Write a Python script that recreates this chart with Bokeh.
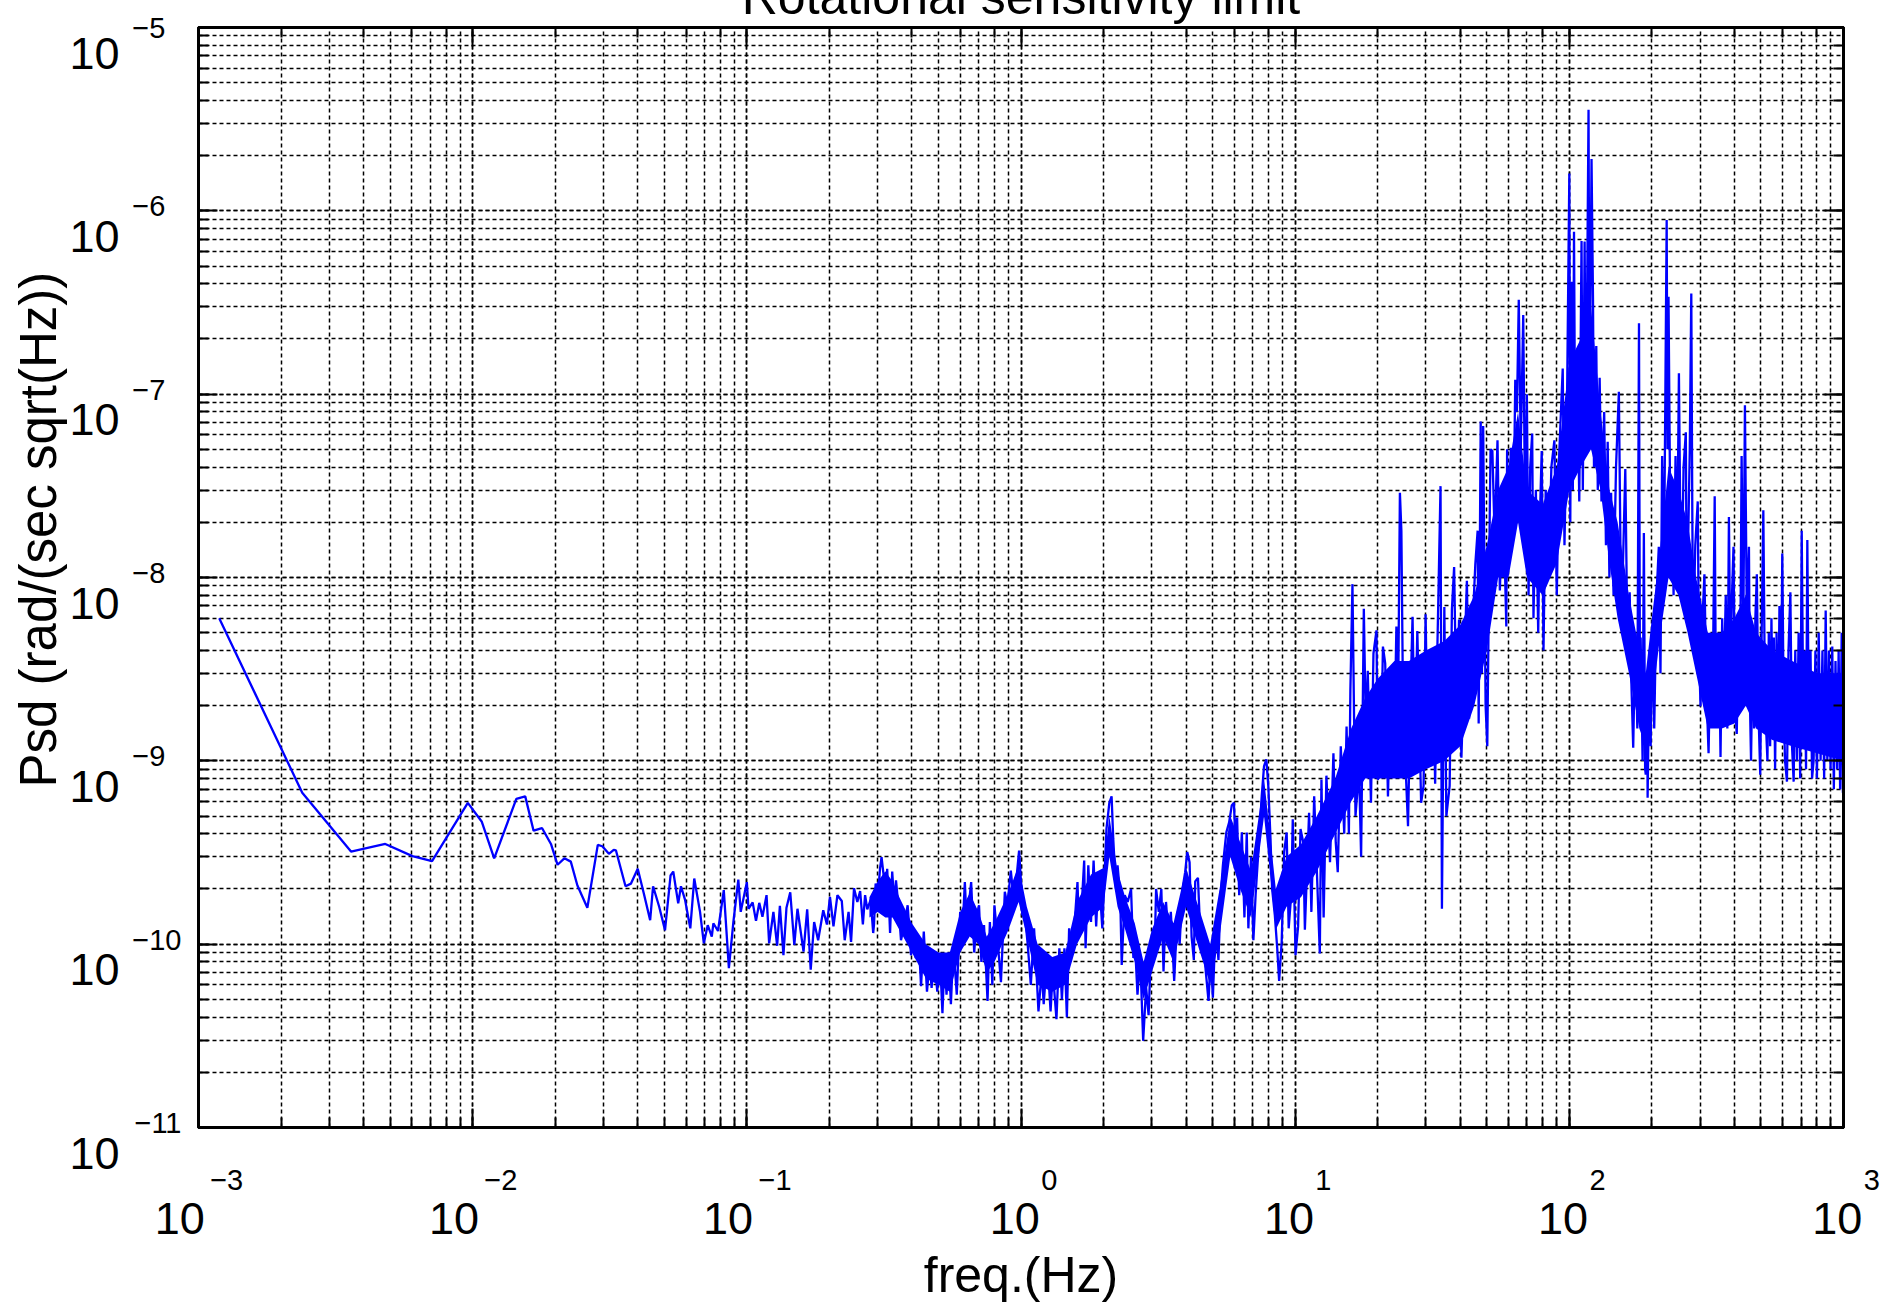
import math
from bokeh.plotting import figure
from bokeh.models import LogAxis, FixedTicker, Title
from bokeh.embed import file_html
from bokeh.resources import INLINE

# ---------------- data ----------------
title_text = "Rotational sensitivity limit"
x_label_text = "freq.(Hz)"
y_label_text = "Psd (rad/(sec sqrt(Hz))"
x_tick_exps = [-3, -2, -1, 0, 1, 2, 3]
y_tick_exps = [-11, -10, -9, -8, -7, -6, -5]

# 0.001 - 0.1 Hz  (freq Hz, psd rad/(s sqrt(Hz)))
seg_mhz = [
    (0.00119, 6.0e-9), (0.00239, 6.7e-10), (0.0036, 3.2e-10), (0.0048, 3.52e-10),
    (0.00603, 3.02e-10), (0.00711, 2.84e-10), (0.0096, 5.9e-10), (0.0108, 4.65e-10),
    (0.01198, 2.94e-10), (0.01443, 6.2e-10), (0.01555, 6.4e-10), (0.01668, 4.16e-10),
    (0.0179, 4.3e-10), (0.0193, 3.52e-10), (0.0204, 2.71e-10), (0.0216, 2.94e-10),
    (0.0228, 2.82e-10), (0.0241, 2.09e-10), (0.0262, 1.58e-10), (0.0286, 3.48e-10),
    (0.0297, 3.42e-10), (0.0314, 3.11e-10), (0.0327, 3.27e-10), (0.0333, 3.25e-10),
    (0.0361, 2.07e-10), (0.0378, 2.14e-10), (0.0400, 2.58e-10), (0.0421, 1.89e-10),
    (0.0444, 1.35e-10), (0.0455, 2.07e-10), (0.0479, 1.60e-10), (0.0503, 1.19e-10),
    (0.0527, 2.37e-10), (0.0539, 2.49e-10), (0.0562, 1.67e-10), (0.0575, 2.07e-10),
    (0.0595, 1.75e-10), (0.0622, 1.22e-10), (0.0643, 2.28e-10), (0.0675, 1.50e-10),
    (0.0697, 1.01e-10), (0.0720, 1.27e-10), (0.0745, 1.10e-10), (0.0755, 1.30e-10),
    (0.0785, 1.18e-10), (0.0824, 1.97e-10), (0.0860, 7.4e-11), (0.0893, 1.32e-10),
    (0.0931, 2.25e-10), (0.0950, 1.50e-10),
]

# 0.1 - 1 Hz
seg_dhz = [
    (0.100, 2.18e-10), (0.1014, 1.56e-10), (0.105, 1.69e-10), (0.108, 1.34e-10),
    (0.111, 1.68e-10), (0.114, 1.41e-10), (0.118, 1.85e-10), (0.1206, 1.01e-10),
    (0.125, 1.50e-10), (0.129, 9.8e-11), (0.132, 1.62e-10), (0.136, 8.7e-11),
    (0.1395, 1.58e-10), (0.144, 1.92e-10), (0.149, 9.9e-11), (0.153, 1.56e-10),
    (0.161, 9.1e-11), (0.166, 1.55e-10), (0.171, 7.25e-11), (0.176, 1.32e-10),
    (0.182, 1.05e-10), (0.190, 1.53e-10), (0.196, 1.28e-10), (0.201, 1.81e-10),
    (0.207, 1.25e-10), (0.214, 1.85e-10), (0.222, 1.72e-10), (0.2275, 1.05e-10),
    (0.235, 1.50e-10), (0.240, 1.03e-10), (0.246, 2.02e-10), (0.253, 1.70e-10),
    (0.259, 1.95e-10), (0.265, 1.28e-10), (0.270, 1.85e-10), (0.275, 1.55e-10),
    (0.283, 1.75e-10), (0.289, 1.15e-10), (0.291, 1.28e-10), (0.295, 2.14e-10),
    (0.301, 1.85e-10), (0.306, 2.58e-10), (0.310, 2.98e-10), (0.315, 2.42e-10),
    (0.321, 1.50e-10), (0.325, 2.58e-10), (0.330, 1.63e-10), (0.333, 1.15e-10),
    (0.339, 2.49e-10), (0.345, 1.67e-10), (0.350, 2.23e-10), (0.357, 1.63e-10),
    (0.365, 1.05e-10), (0.375, 1.27e-10), (0.386, 1.63e-10), (0.392, 1.17e-10),
    (0.397, 8.7e-11), (0.406, 1.19e-10), (0.413, 8.4e-11), (0.425, 9.5e-11),
    (0.432, 5.9e-11), (0.442, 1.17e-10), (0.454, 5.5e-11), (0.464, 8.0e-11),
    (0.472, 5.77e-11), (0.482, 8.7e-11), (0.495, 5.5e-11), (0.506, 8.6e-11),
    (0.517, 4.2e-11), (0.526, 8.4e-11), (0.535, 5.3e-11), (0.545, 9.0e-11),
    (0.555, 4.7e-11), (0.567, 9.9e-11), (0.583, 5.3e-11), (0.600, 1.50e-10),
    (0.610, 1.08e-10), (0.624, 2.18e-10), (0.634, 1.27e-10), (0.646, 1.67e-10),
    (0.658, 2.18e-10), (0.675, 9.0e-11), (0.690, 1.44e-10), (0.703, 1.63e-10),
    (0.717, 8.0e-11), (0.733, 1.27e-10), (0.755, 4.9e-11), (0.770, 1.32e-10),
    (0.786, 6.0e-11), (0.800, 1.63e-10), (0.822, 1.04e-10), (0.845, 6.2e-11),
    (0.873, 1.93e-10), (0.892, 1.63e-10), (0.918, 2.52e-10), (0.940, 1.77e-10),
    (0.965, 2.37e-10), (0.984, 3.24e-10),
]

# 1 - 10 Hz
seg_hz = [
    (1.000, 2.18e-10), (1.012, 1.44e-10), (1.030, 1.50e-10), (1.056, 1.03e-10),
    (1.086, 6.0e-11), (1.116, 1.22e-10), (1.137, 7.4e-11), (1.158, 4.3e-11),
    (1.19, 7.1e-11), (1.21, 4.7e-11), (1.246, 8.7e-11), (1.282, 4.3e-11),
    (1.306, 7.1e-11), (1.347, 3.9e-11), (1.38, 9.5e-11), (1.41, 5.0e-11),
    (1.44, 9.5e-11), (1.47, 4.0e-11), (1.498, 1.22e-10), (1.53, 8.7e-11),
    (1.576, 1.44e-10), (1.607, 2.18e-10), (1.63, 1.10e-10), (1.66, 1.50e-10),
    (1.70, 2.86e-10), (1.72, 9.5e-11), (1.76, 2.69e-10), (1.80, 1.32e-10),
    (1.84, 2.86e-10), (1.88, 1.25e-10), (1.92, 2.47e-10), (1.98, 1.22e-10),
    (2.01, 2.10e-10), (2.05, 4.25e-10), (2.10, 5.9e-10), (2.14, 6.4e-10),
    (2.17, 3.75e-10), (2.22, 2.0e-10), (2.25, 2.69e-10), (2.30, 1.85e-10),
    (2.33, 7.7e-11), (2.39, 1.85e-10), (2.45, 1.70e-10), (2.52, 2.0e-10),
    (2.57, 8.4e-11), (2.61, 9.5e-11), (2.66, 5.3e-11), (2.72, 8.7e-11),
    (2.79, 2.97e-11), (2.86, 5.8e-11), (2.92, 4.1e-11), (2.98, 9.5e-11),
    (3.07, 8.7e-11), (3.11, 2.0e-10), (3.18, 1.50e-10), (3.25, 2.0e-10),
    (3.31, 7.1e-11), (3.38, 1.70e-10), (3.46, 1.03e-10), (3.52, 1.50e-10),
    (3.62, 6.3e-11), (3.72, 1.50e-10), (3.79, 1.0e-10), (3.88, 2.0e-10),
    (3.97, 2.47e-10), (4.04, 3.18e-10), (4.12, 2.8e-10), (4.19, 1.10e-10),
    (4.27, 8.2e-11), (4.32, 2.2e-10), (4.42, 2.3e-10), (4.53, 9.5e-11),
    (4.62, 1.05e-10), (4.72, 7.1e-11), (4.83, 4.9e-11), (4.92, 8.7e-11),
    (5.01, 5.1e-11), (5.13, 1.32e-10), (5.25, 8.2e-11), (5.35, 1.85e-10),
    (5.45, 2.69e-10), (5.61, 4.07e-10), (5.74, 4.6e-10), (5.87, 5.7e-10),
    (5.98, 5.9e-10), (6.05, 3.75e-10), (6.14, 4.9e-10), (6.25, 1.85e-10),
    (6.39, 4.07e-10), (6.53, 1.40e-10), (6.66, 4.07e-10), (6.75, 1.22e-10),
    (6.90, 3.0e-10), (7.04, 1.05e-10), (7.18, 1.90e-10), (7.34, 3.2e-10),
    (7.55, 6.4e-10), (7.70, 9.35e-10), (7.85, 1.02e-9), (7.98, 7.3e-10),
    (8.13, 3.75e-10), (8.24, 2.0e-10), (8.43, 1.44e-10), (8.60, 9.5e-11),
    (8.74, 6.3e-11), (8.93, 1.03e-10), (9.12, 3.2e-10), (9.31, 4.07e-10),
    (9.47, 1.22e-10), (9.67, 1.85e-10), (9.80, 4.8e-10),
]

# 10 - 100 Hz
seg_dahz = [
    (10.03, 8.7e-11), (10.25, 1.25e-10), (10.46, 4.25e-10), (10.70, 3.6e-10),
    (10.85, 1.2e-10), (11.24, 5.2e-10), (11.46, 1.5e-10), (11.73, 6.4e-10),
    (11.99, 2.58e-10), (12.30, 8.9e-11), (12.47, 7.9e-10), (12.70, 1.4e-10),
    (13.0, 8.3e-10), (13.4, 2.8e-10), (13.79, 1.1e-9), (14.06, 3.6e-10),
    (14.3, 2.47e-10), (14.67, 1.2e-9), (15.1, 4.0e-10), (15.4, 1.54e-9),
    (15.7, 4.0e-10), (15.9, 2.44e-9), (16.18, 9.2e-9), (16.4, 1.7e-9),
    (16.6, 5.0e-10), (17.1, 9.0e-10), (17.4, 3.0e-10), (17.8, 6.75e-9),
    (18.1, 1.5e-9), (18.4, 3.1e-9), (18.9, 5.9e-10), (19.3, 3.85e-9),
    (19.8, 5.15e-9), (20.0, 7.9e-10), (20.5, 8.4e-10), (20.9, 4.2e-9),
    (21.3, 3.4e-9), (21.8, 6.4e-10), (22.3, 2.54e-9), (22.9, 8.8e-10),
    (23.4, 5.4e-9), (23.7, 1.5e-9), (24.1, 2.9e-8), (24.4, 1.8e-8),
    (24.8, 1.4e-9), (25.3, 9.0e-10), (25.8, 4.4e-10), (26.3, 2.06e-9),
    (26.8, 6.1e-9), (27.3, 1.2e-9), (27.9, 5.1e-9), (28.8, 5.9e-10),
    (29.4, 7.3e-10), (29.9, 6.3e-9), (30.5, 1.04e-9), (31.1, 3.1e-9),
    (31.8, 3.85e-9), (32.4, 7.5e-10), (33.0, 4.0e-9), (33.9, 3.15e-8),
    (34.3, 1.56e-10), (35.0, 6.9e-9), (35.6, 5.0e-10), (36.6, 7.3e-10),
    (37.3, 6.7e-9), (38.0, 1.14e-8), (38.8, 1.6e-9), (39.6, 5.9e-9),
    (40.4, 1.04e-9), (41.3, 3.1e-9), (42.3, 9.6e-9), (43.1, 1.7e-9),
    (44.4, 5.6e-9), (45.4, 1.18e-8), (46.3, 1.8e-8), (46.7, 1.6e-9),
    (47.5, 7.1e-8), (48.0, 3.0e-9), (48.5, 6.7e-8), (49.5, 2.0e-9),
    (50.2, 1.2e-9), (51.3, 2.5e-8), (51.6, 5.0e-8), (52.4, 4.9e-8),
    (53.4, 1.65e-8), (54.7, 5.6e-8), (55.8, 8.5e-9), (57.3, 3.1e-8),
    (58.9, 5.4e-9), (59.3, 5.0e-8), (60.0, 1.65e-8), (61.2, 5.1e-8),
    (62.6, 2.1e-8), (63.5, 1.2e-7), (64.4, 8.0e-8), (65.4, 3.27e-7),
    (66.5, 5.0e-8), (67.9, 2.7e-7), (69.0, 2.0e-8), (70.0, 1.0e-7),
    (71.0, 8.0e-9), (72.0, 4.0e-8), (73.2, 6.1e-8), (74.0, 6.0e-9),
    (75.5, 3.0e-8), (77.0, 5.0e-9), (78.0, 2.0e-8), (79.3, 4.9e-8),
    (80.5, 4.0e-9), (82.0, 3.0e-8), (84.0, 1.0e-8), (86.0, 4.0e-8),
    (88.2, 5.6e-8), (90.0, 8.0e-9), (92.0, 5.0e-8), (94.6, 1.38e-7),
    (96.0, 1.5e-8), (98.0, 8.0e-8),
]

# 100 - 1000 Hz
seg_hhz = [
    (100.0, 1.6e-6), (100.8, 2.0e-8), (101.9, 4.1e-7), (103.0, 3.0e-8),
    (104.0, 7.7e-7), (105.0, 5.0e-8), (107.0, 1.46e-7), (108.7, 2.6e-8),
    (110.8, 6.85e-7), (112.0, 3.0e-8), (113.7, 6.8e-7), (115.0, 5.0e-8),
    (117.5, 3.56e-6), (118.5, 8.0e-8), (120.5, 1.92e-6), (122.0, 3.25e-7),
    (123.0, 4.0e-8), (125.4, 1.83e-7), (127.0, 3.0e-8), (129.0, 1.23e-7),
    (131.0, 2.6e-8), (134.0, 8.0e-8), (136.0, 1.5e-8), (138.0, 5.5e-8),
    (140.0, 1.0e-8), (142.0, 2.9e-8), (145.0, 8.0e-9), (148.0, 4.0e-8),
    (151.6, 1.03e-7), (154.0, 1.0e-8), (156.0, 8.3e-9), (160.0, 3.9e-8),
    (163.0, 4.0e-9), (166.0, 8.3e-9), (168.0, 3.0e-9), (171.0, 1.18e-9),
    (174.0, 5.0e-9), (177.0, 1.5e-9), (179.5, 2.44e-7), (181.0, 2.0e-9),
    (182.0, 4.7e-9), (185.0, 1.0e-9), (187.0, 1.75e-8), (189.0, 9.0e-10),
    (190.0, 8.4e-10), (192.0, 3.0e-9), (193.0, 6.3e-10), (196.0, 4.0e-9),
    (198.0, 1.2e-9), (200.0, 4.7e-9), (204.0, 1.5e-9), (208.0, 8.0e-9),
    (212.0, 1.47e-8), (215.0, 3.0e-9), (218.0, 4.6e-8), (221.0, 8.0e-9),
    (224.0, 1.0e-7), (226.5, 8.9e-7), (228.0, 5.0e-8), (230.0, 3.4e-7),
    (233.0, 3.0e-8), (237.0, 2.6e-8), (240.0, 8.0e-9), (244.0, 4.6e-8),
    (247.0, 1.0e-8), (251.0, 1.3e-7), (254.0, 2.0e-8), (257.0, 8.3e-9),
    (261.0, 4.0e-8), (266.0, 6.2e-8), (268.0, 8.0e-9), (271.0, 1.47e-8),
    (275.0, 5.0e-8), (278.5, 3.54e-7), (281.0, 2.0e-8), (283.0, 4.7e-9),
    (288.0, 1.5e-8), (294.0, 2.6e-8), (297.0, 4.0e-9), (301.0, 1.98e-9),
    (306.0, 6.0e-9), (311.0, 1.04e-8), (316.0, 2.5e-9), (322.0, 1.1e-9),
    (328.0, 5.0e-9), (333.0, 2.0e-9), (339.0, 2.77e-8), (342.0, 3.0e-9),
    (346.0, 2.0e-9), (351.0, 5.0e-9), (356.0, 1.05e-9), (361.0, 6.0e-9),
    (366.0, 2.5e-9), (372.0, 8.0e-9), (377.0, 1.5e-9), (382.0, 2.14e-8),
    (387.0, 3.0e-9), (392.0, 8.0e-9), (397.0, 1.47e-8), (402.0, 2.0e-9),
    (408.0, 1.4e-9), (414.0, 5.0e-9), (419.0, 2.0e-9), (425.0, 4.6e-8),
    (431.0, 5.0e-9), (437.0, 8.7e-8), (444.0, 6.0e-9), (452.0, 1.47e-8),
    (456.0, 2.0e-9), (460.0, 1.0e-9), (466.0, 4.0e-9), (472.0, 1.5e-9),
    (477.0, 6.0e-9), (483.0, 1.04e-8), (489.0, 2.0e-9), (497.0, 8.4e-10),
    (503.0, 5.0e-9), (510.0, 2.33e-8), (516.0, 3.0e-9), (522.0, 1.5e-9),
    (528.0, 1.0e-9), (534.0, 5.0e-9), (540.0, 1.2e-9), (546.0, 6.0e-9),
    (552.0, 1.5e-9), (557.0, 4.7e-9), (563.0, 9.0e-10), (570.0, 5.0e-9),
    (577.0, 1.3e-9), (584.0, 7.0e-9), (591.0, 1.5e-9), (598.0, 1.35e-8),
    (605.0, 2.0e-9), (612.0, 1.0e-9), (622.0, 7.7e-10), (630.0, 4.0e-9),
    (640.0, 8.3e-9), (649.0, 1.2e-9), (658.0, 7.7e-10), (667.0, 4.0e-9),
    (676.0, 1.0e-9), (686.0, 5.0e-9), (695.0, 8.0e-10), (704.0, 1.8e-8),
    (714.0, 1.5e-9), (722.0, 4.0e-9), (730.0, 9.0e-10), (738.0, 1.6e-8),
    (748.0, 1.2e-9), (758.0, 4.0e-9), (768.0, 8.0e-10), (778.0, 1.0e-9),
    (790.0, 4.0e-9), (800.0, 8.0e-10), (812.0, 5.0e-9), (825.0, 1.0e-9),
    (838.0, 4.0e-9), (850.0, 8.0e-10), (861.0, 6.6e-9), (873.0, 1.0e-9),
    (885.0, 4.0e-9), (897.0, 9.0e-10), (910.0, 4.2e-9), (922.0, 7.0e-10),
    (935.0, 3.5e-9), (948.0, 9.0e-10), (960.0, 4.0e-9), (972.0, 7.0e-10),
    (985.0, 5.0e-9), (995.0, 6.7e-10), (1000.0, 2.5e-9),
]

# solid core of the densely sampled trace: (freq Hz, lower edge, upper edge)
dense_core = [
    (0.28, 1.4e-10, 1.8e-10), (0.30, 1.5e-10, 2.2e-10), (0.32, 1.4e-10, 2.5e-10),
    (0.34, 1.4e-10, 2.2e-10), (0.36, 1.2e-10, 1.8e-10), (0.40, 9.0e-11, 1.3e-10),
    (0.45, 6.5e-11, 1.0e-10), (0.50, 6.0e-11, 9.0e-11), (0.55, 5.5e-11, 9.0e-11),
    (0.60, 9.0e-11, 1.5e-10), (0.65, 1.1e-10, 1.9e-10), (0.70, 1.0e-10, 1.5e-10),
    (0.75, 7.0e-11, 1.1e-10), (0.80, 8.0e-11, 1.3e-10), (0.90, 1.2e-10, 1.9e-10),
    (0.98, 1.7e-10, 2.7e-10), (1.05, 1.1e-10, 1.6e-10), (1.15, 6.0e-11, 1.0e-10),
    (1.30, 5.5e-11, 8.5e-11), (1.45, 6.0e-11, 9.0e-11), (1.60, 1.0e-10, 1.7e-10),
    (1.80, 1.4e-10, 2.4e-10), (2.00, 1.6e-10, 2.6e-10), (2.10, 3.0e-10, 5.0e-10),
    (2.25, 1.6e-10, 2.5e-10), (2.40, 1.2e-10, 1.8e-10), (2.60, 8.0e-11, 1.3e-10),
    (2.80, 5.0e-11, 8.0e-11), (3.00, 7.0e-11, 1.2e-10), (3.30, 1.1e-10, 1.7e-10),
    (3.60, 8.0e-11, 1.3e-10), (4.00, 1.6e-10, 2.6e-10), (4.50, 9.0e-11, 1.5e-10),
    (4.90, 6.0e-11, 1.0e-10), (5.30, 1.1e-10, 2.0e-10), (5.80, 3.0e-10, 5.0e-10),
    (6.30, 2.0e-10, 3.6e-10), (6.90, 1.4e-10, 2.5e-10), (7.70, 5.0e-10, 8.0e-10),
    (8.50, 1.2e-10, 2.0e-10), (9.30, 1.6e-10, 3.0e-10), (10.5, 1.8e-10, 3.5e-10),
    (12.0, 2.5e-10, 5.0e-10), (14.0, 4.0e-10, 8.0e-10), (16.0, 6.0e-10, 1.5e-9),
    (18.0, 8.0e-10, 2.2e-9), (20.0, 8.0e-10, 2.8e-9), (23.0, 8.0e-10, 3.5e-9),
    (26.0, 8.0e-10, 3.5e-9), (30.0, 9.0e-10, 4.0e-9), (35.0, 1.0e-9, 4.5e-9),
    (40.0, 1.2e-9, 5.5e-9), (45.0, 2.0e-9, 8.0e-9), (50.0, 4.0e-9, 1.5e-8),
    (55.0, 1.0e-8, 3.0e-8), (60.0, 1.0e-8, 4.0e-8), (65.0, 2.0e-8, 8.0e-8),
    (70.0, 1.0e-8, 3.0e-8), (80.0, 8.0e-9, 2.5e-8), (90.0, 1.2e-8, 4.0e-8),
    (100.0, 3.0e-8, 1.5e-7), (110.0, 4.0e-8, 2.0e-7), (120.0, 5.0e-8, 3.0e-7),
    (130.0, 3.0e-8, 8.0e-8), (140.0, 1.2e-8, 3.0e-8), (150.0, 6.0e-9, 2.0e-8),
    (165.0, 3.0e-9, 8.0e-9), (180.0, 1.5e-9, 4.0e-9), (190.0, 1.2e-9, 3.0e-9),
    (200.0, 2.0e-9, 6.0e-9), (215.0, 5.0e-9, 1.5e-8), (230.0, 1.0e-8, 4.0e-8),
    (250.0, 8.0e-9, 3.0e-8), (270.0, 5.0e-9, 2.0e-8), (290.0, 3.0e-9, 1.0e-8),
    (320.0, 1.5e-9, 5.0e-9), (360.0, 1.5e-9, 5.0e-9), (400.0, 1.6e-9, 6.0e-9),
    (440.0, 2.0e-9, 8.0e-9), (480.0, 1.5e-9, 5.0e-9), (550.0, 1.3e-9, 4.0e-9),
    (650.0, 1.2e-9, 3.5e-9), (800.0, 1.1e-9, 3.0e-9), (1000.0, 1.0e-9, 3.0e-9),
]

segments = [seg_mhz, seg_dhz, seg_hz, seg_dahz, seg_hhz]
freq_hz = [f for seg in segments for f, _ in seg]
psd = [v for seg in segments for _, v in seg]
core_f = [r[0] for r in dense_core]
core_lo = [r[1] for r in dense_core]
core_hi = [r[2] for r in dense_core]

# ---------------- styling ----------------
FONT = "Liberation Sans"
BASE_PX = 45     # "10" of the tick labels
EXP_PX = 29      # exponent of the tick labels
BLUE = "#0000ff"
BLACK = "#000000"
NBSP = "\u00a0"
MINUS = "\u2212"
FRAME_H = 1305 - 27 - 171
PX_PER_DEC_Y = FRAME_H / 6.0

X_LO, X_HI = 10.0 ** -3, 10.0 ** 3
Y_LO, Y_HI = 10.0 ** -11, 10.0 ** -5

p = figure(
    width=1895, height=1305,
    x_axis_type="log", y_axis_type="log",
    x_range=(X_LO, X_HI), y_range=(Y_LO, Y_HI),
    output_backend="svg", toolbar_location=None,
    min_border_left=198, min_border_right=52,
    min_border_top=27, min_border_bottom=171,
    background_fill_color="white", border_fill_color="white",
)
p.title.visible = False

p.varea(x=core_f, y1=core_lo, y2=core_hi, fill_color=BLUE, fill_alpha=1.0)
p.line(freq_hz, psd, line_color=BLUE, line_width=2.3)

# frame axes (ticks only, on all four sides, pointing inwards)
p.add_layout(LogAxis(), "above")
p.add_layout(LogAxis(), "right")
for ax in list(p.axis):
    ax.major_tick_in = 19
    ax.major_tick_out = 0
    ax.minor_tick_in = 10
    ax.minor_tick_out = 0
    ax.major_tick_line_width = 2
    ax.minor_tick_line_width = 2
    ax.major_tick_line_color = BLACK
    ax.minor_tick_line_color = BLACK
    ax.axis_line_width = 3
    ax.axis_line_color = BLACK
    ax.major_label_text_font_size = "1px"
    ax.major_label_text_color = None
    ax.major_label_standoff = 0

for g in (p.xgrid, p.ygrid):
    g.grid_line_color = BLACK
    g.grid_line_dash = "4 3"
    g.grid_line_width = 1.5
    g.minor_grid_line_color = BLACK
    g.minor_grid_line_dash = "4 3"
    g.minor_grid_line_width = 1.5

p.outline_line_color = BLACK
p.outline_line_width = 3


def label_axis(ticks, overrides, size_px, standoff):
    ax = LogAxis(ticker=FixedTicker(ticks=ticks), major_label_overrides=overrides)
    ax.axis_line_color = None
    ax.major_tick_line_color = None
    ax.minor_tick_line_color = None
    ax.major_tick_in = 0
    ax.major_tick_out = 0
    ax.minor_tick_in = 0
    ax.minor_tick_out = 0
    ax.major_label_text_font = FONT
    ax.major_label_text_font_size = f"{size_px}px"
    ax.major_label_text_color = BLACK
    ax.major_label_standoff = standoff
    return ax


def inside(v, lo, hi):
    return min(max(v, lo * (1 + 1e-9)), hi * (1 - 1e-9))


def exp_text(e):
    return str(e).replace("-", MINUS)


# ---- x tick labels: exponent row, then "10" row, then axis title ----
x_ticks = [inside(10.0 ** e, X_LO, X_HI) for e in x_tick_exps]
x_exp_over = {t: NBSP * 7 + exp_text(e) for t, e in zip(x_ticks, x_tick_exps)}
x_ten_over = {t: "10" + NBSP * (3 if e < 0 else 1) for t, e in zip(x_ticks, x_tick_exps)}

ax_xexp = label_axis(x_ticks, x_exp_over, EXP_PX, 36)
p.add_layout(ax_xexp, "below")
ax_xten = label_axis(x_ticks, x_ten_over, BASE_PX, -6)
ax_xten.axis_label = x_label_text
ax_xten.axis_label_text_font = FONT
ax_xten.axis_label_text_font_size = "50px"
ax_xten.axis_label_text_font_style = "normal"
ax_xten.axis_label_text_color = BLACK
ax_xten.axis_label_standoff = 0
p.add_layout(ax_xten, "below")

# ---- y tick labels: exponent column next to the frame, "10" column further out ----
ten_drop = 25.9 / PX_PER_DEC_Y     # "10" sits below its decade line
exp_lift = 4.5 / PX_PER_DEC_Y      # exponent sits just above it
y_exp_ticks, y_exp_over = [], {}
y_ten_ticks, y_ten_over = [], {}
for e in y_tick_exps:
    s = exp_text(e)
    te = inside(10.0 ** (e + exp_lift), Y_LO, Y_HI)
    y_exp_ticks.append(te)
    y_exp_over[te] = s + NBSP * (2 * (3 - len(s)))      # pad to the width of "-11"
    if e == y_tick_exps[0]:
        tt = inside(10.0 ** e, Y_LO, Y_HI)
        y_ten_over[tt] = NBSP + "\n10"                  # bottom one: push down a line
    else:
        tt = 10.0 ** (e - ten_drop)
        y_ten_over[tt] = "10"
    y_ten_ticks.append(tt)

ax_yexp = label_axis(y_exp_ticks, y_exp_over, EXP_PX, 17)
p.add_layout(ax_yexp, "left")
ax_yten = label_axis(y_ten_ticks, y_ten_over, BASE_PX, 10)
ax_yten.major_label_text_line_height = 1.03
p.add_layout(ax_yten, "left")

# ---- y axis title ----
p.add_layout(Title(text=y_label_text, text_font=FONT, text_font_size="51px",
                   text_font_style="normal", text_color=BLACK, align="left",
                   vertical_align="middle", text_baseline="middle",
                   offset=340, standoff=-2), "left")

# ---- plot title: mostly above the page edge, as in the reference ----
try:
    top_title = Title(text=NBSP + "\n" + title_text, text_font=FONT,
                      text_font_size="50px", text_font_style="normal",
                      text_color=BLACK, align="center", vertical_align="bottom",
                      offset=-3, standoff=5, text_line_height=-0.75)
except Exception:
    top_title = Title(text=title_text, text_font=FONT, text_font_size="50px",
                      text_font_style="normal", text_color=BLACK, align="center",
                      vertical_align="bottom", offset=-3, standoff=-55)
p.add_layout(top_title, "above")

open("out.html", "w").write(file_html(p, INLINE))
